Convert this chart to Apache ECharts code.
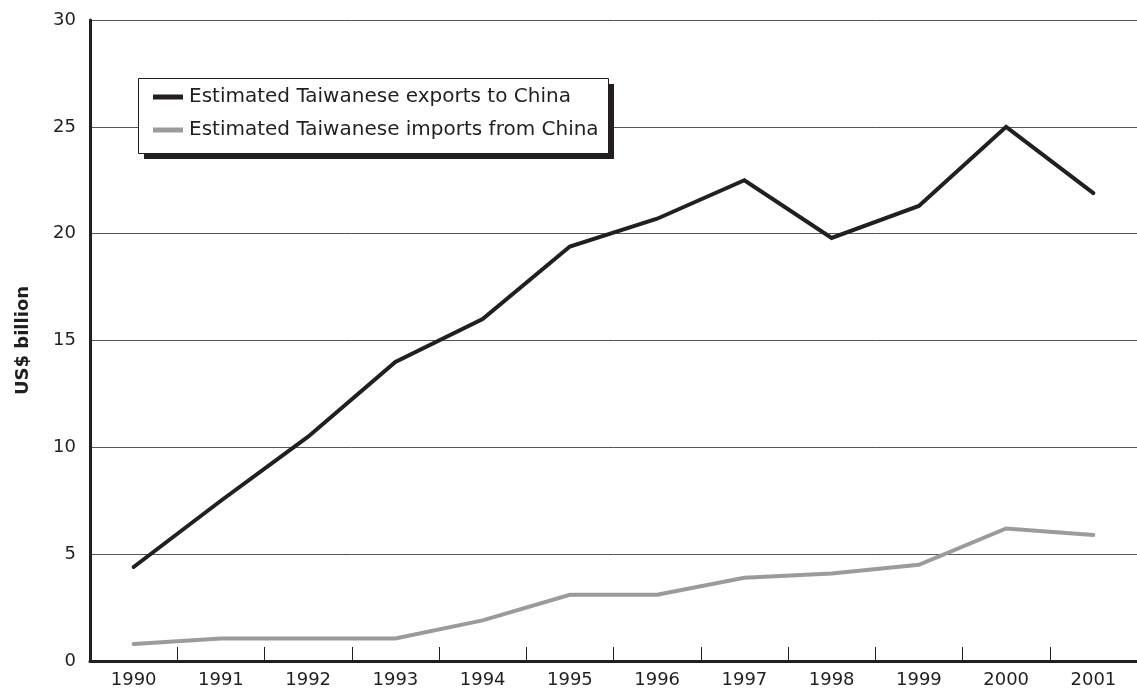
<!DOCTYPE html>
<html><head><meta charset="utf-8">
<script src="https://cdn.jsdelivr.net/npm/echarts@6/dist/echarts.min.js"></script>
<style>html,body{margin:0;padding:0;background:#fff}#c{width:1137px;height:692px}</style>
</head><body><div id="c"></div>
<script>
const years = ['1990','1991','1992','1993','1994','1995','1996','1997','1998','1999','2000','2001'];
const exportsToChina = [4.4, 7.5, 10.5, 14.0, 16.0, 19.4, 20.7, 22.5, 19.8, 21.3, 25.0, 21.9];
const importsFromChina = [0.8, 1.05, 1.05, 1.05, 1.9, 3.1, 3.1, 3.9, 4.1, 4.5, 6.2, 5.9];
const yTicks = [0, 5, 10, 15, 20, 25, 30];

const font = 'DejaVu Sans';
const chart = echarts.init(document.getElementById('c'), null, {renderer: 'canvas'});
chart.setOption({
  animation: false,
  textStyle: {fontFamily: font},
  grid: {left: 90, top: 20, width: 1058, height: 641, containLabel: false},
  graphic: [
    {type: 'rect', left: 144, top: 84, z: 10, shape: {width: 470, height: 75},
     style: {fill: '#231f20'}},
    {type: 'rect', left: 138, top: 78, z: 11, shape: {width: 470, height: 75},
     style: {fill: '#fff', stroke: '#231f20', lineWidth: 1}}
  ],
  legend: {
    orient: 'vertical', left: 153, top: 87, z: 20,
    padding: 0, itemGap: 13,
    itemWidth: 30, itemHeight: 5, icon: 'rect',
    textStyle: {fontFamily: font, fontSize: 20, color: '#231f20', padding: [0, 0, 0, 1]},
    data: ['Estimated Taiwanese exports to China', 'Estimated Taiwanese imports from China']
  },
  xAxis: {
    type: 'category', data: years, boundaryGap: true,
    axisLine: {lineStyle: {color: '#231f20', width: 3}},
    axisTick: {show: true, inside: true, length: 14, lineStyle: {color: '#231f20', width: 1}},
    axisLabel: {fontFamily: font, fontSize: 18, color: '#231f20', margin: 10},
    splitLine: {show: false}
  },
  yAxis: {
    type: 'value', min: yTicks[0], max: yTicks[yTicks.length - 1], interval: 5,
    name: 'US$ billion', nameLocation: 'middle', nameGap: 58,
    nameTextStyle: {fontFamily: font, fontSize: 18, fontWeight: 'bold', color: '#231f20'},
    axisLine: {show: true, lineStyle: {color: '#231f20', width: 3}},
    axisTick: {show: false},
    axisLabel: {fontFamily: font, fontSize: 18, color: '#231f20', margin: 14},
    splitLine: {show: true, lineStyle: {color: '#555', width: 1}}
  },
  series: [
    {name: 'Estimated Taiwanese exports to China', type: 'line', data: exportsToChina,
     symbol: 'none', color: '#231f20',
     lineStyle: {color: '#231f20', width: 4, cap: 'round', join: 'miter'}},
    {name: 'Estimated Taiwanese imports from China', type: 'line', data: importsFromChina,
     symbol: 'none', color: '#9a9b9d',
     lineStyle: {color: '#9a9b9d', width: 4, cap: 'round', join: 'miter'}}
  ]
});
</script></body></html>
